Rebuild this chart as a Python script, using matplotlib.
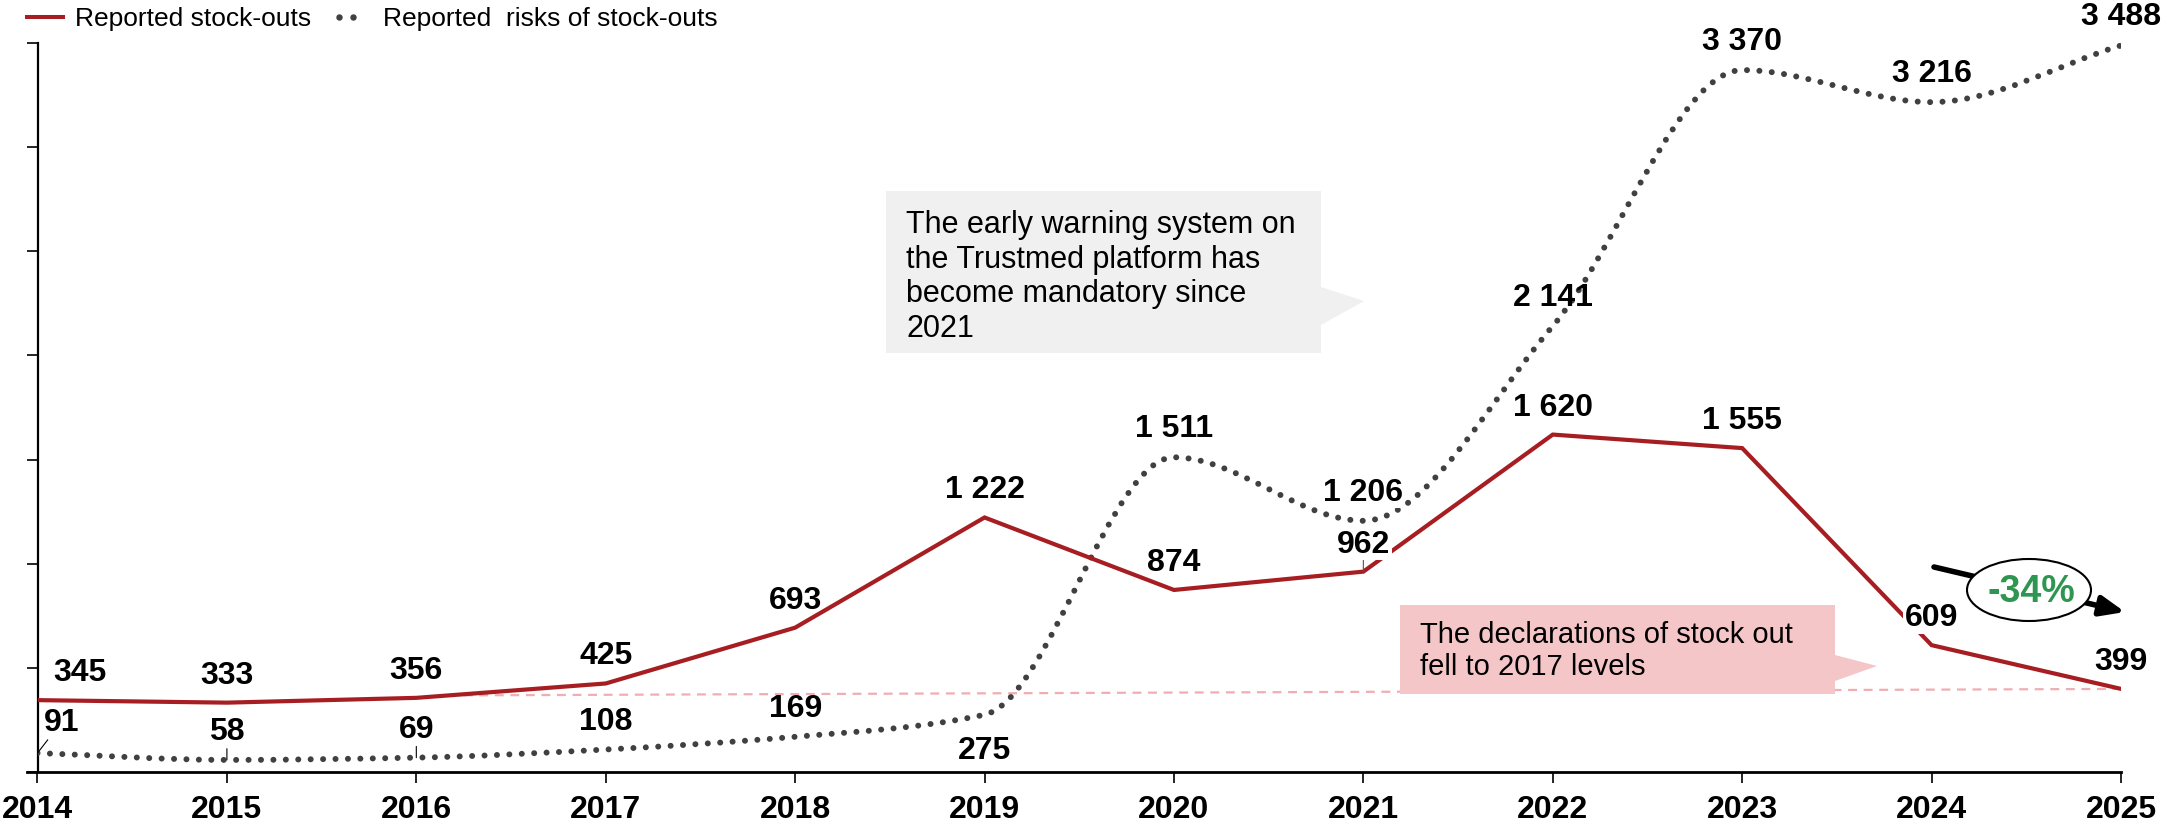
import matplotlib
matplotlib.use('Agg')
import matplotlib.pyplot as plt
from matplotlib.path import Path
from matplotlib.patches import PathPatch, Polygon, Ellipse, FancyArrowPatch
from matplotlib.lines import Line2D

plt.rcParams['font.family'] = ['Liberation Sans', 'DejaVu Sans']

# ---------------- data ----------------
years = [2014, 2015, 2016, 2017, 2018, 2019, 2020, 2021, 2022, 2023, 2024, 2025]
stockouts = [345, 333, 356, 425, 693, 1222, 874, 962, 1620, 1555, 609, 399]
risks = [91, 58, 69, 108, 169, 275, 1511, 1206, 2141, 3370, 3216, 3488]
stock_label = "Reported stock-outs"
risk_label = "Reported  risks of stock-outs"
yticks = [0, 500, 1000, 1500, 2000, 2500, 3000, 3500]
callout_gray = "The early warning system on\nthe Trustmed platform has\nbecome mandatory since\n2021"
callout_pink = "The declarations of stock out\nfell to 2017 levels"
change_label = "-34%"

RED = '#a71e22'
DOT = '#404040'
PINK = '#f5c6c7'
GRAY_BOX = '#f0f0f0'
GREEN = '#2e9650'

W, H = 2177, 829
fig = plt.figure(figsize=(W / 100, H / 100), dpi=100)
ax_l, ax_r, ax_b, ax_t = 37.5, 2121, 773, 44
ax = fig.add_axes([ax_l / W, (H - ax_b) / H, (ax_r - ax_l) / W, (ax_b - ax_t) / H])

ax.set_xlim(years[0], years[-1])
ax.set_ylim(yticks[0], yticks[-1])
ax.set_xticks(years)
ax.set_xticklabels([str(y) for y in years], fontsize=23, fontweight='bold')
ax.set_yticks(yticks)
ax.set_yticklabels([])
for s in ['top', 'right']:
    ax.spines[s].set_visible(False)
ax.spines['left'].set_linewidth(1.6)
ax.spines['bottom'].set_linewidth(2.0)
ax.spines['bottom'].set_bounds(years[0] - 0.055, years[-1])
ax.tick_params(axis='x', direction='out', length=8, width=1.2, pad=8)
ax.tick_params(axis='y', direction='out', length=8, width=1.2)

# reference dashed line "2017 level"
ax.plot([2016.25, years[-1]], [368, stockouts[-1]], color='#f0aeb2', lw=1.6,
        ls=(0, (4, 3)), zorder=1)

# smoothed dotted line for risks (monotone cubic bezier rendering)
n = len(years)
slopes = [(risks[i + 1] - risks[i]) / (years[i + 1] - years[i]) for i in range(n - 1)]
tang = [0.0] * n
tang[0] = slopes[0]
tang[-1] = slopes[-1]
for i in range(1, n - 1):
    a, b = slopes[i - 1], slopes[i]
    tang[i] = 0.0 if a * b <= 0 else 2.0 / (1.0 / a + 1.0 / b)
verts = [(years[0], risks[0])]
codes = [Path.MOVETO]
for i in range(n - 1):
    h = years[i + 1] - years[i]
    verts += [(years[i] + h / 3, risks[i] + tang[i] * h / 3),
              (years[i + 1] - h / 3, risks[i + 1] - tang[i + 1] * h / 3),
              (years[i + 1], risks[i + 1])]
    codes += [Path.CURVE4] * 3
dotted = PathPatch(Path(verts, codes), fill=False, edgecolor=DOT, lw=4.3,
                   ls=(0, (0.01, 2.07)), capstyle='round', zorder=3)
ax.add_patch(dotted)

# red line
ax.plot(years, stockouts, color=RED, lw=3.0, zorder=4, solid_joinstyle='miter')

def fmt(v):
    return f"{v:,}".replace(',', ' ')

bbox = dict(boxstyle='square,pad=0.05', fc='white', ec='none')

red_off = {2014: (42, 28)}
red_mask = {2021, 2024}
for x, v in zip(years, stockouts):
    dx, dy = red_off.get(x, (0, 28))
    ax.annotate(fmt(v), (x, v), xytext=(dx, dy), textcoords='offset pixels',
                ha='center', va='center', fontsize=23, fontweight='bold',
                bbox=bbox if x in red_mask else None, zorder=5,
                annotation_clip=False)

risk_off = {2014: (24, 31), 2019: (0, -35)}
risk_mask = {2021}
leaders = {2014, 2015, 2016}
for x, v in zip(years, risks):
    dx, dy = risk_off.get(x, (0, 29))
    kw = {}
    if x in leaders:
        kw['arrowprops'] = dict(arrowstyle='-', color='black', lw=0.8,
                                shrinkA=0, shrinkB=0)
    ax.annotate(fmt(v), (x, v), xytext=(dx, dy), textcoords='offset pixels',
                ha='center', va='center', fontsize=23, fontweight='bold',
                bbox=bbox if x in risk_mask else None, zorder=5,
                annotation_clip=False, **kw)
# leader for 962
ax.annotate('', (years[7], stockouts[7]), xytext=(0, 12), textcoords='offset pixels',
            arrowprops=dict(arrowstyle='-', color='#555555', lw=0.8, shrinkA=0, shrinkB=0),
            zorder=4.5)

# ---- callouts (axes fraction coords) ----
def fx(px):
    return (px - ax_l) / (ax_r - ax_l)

def fy(py):
    return (ax_b - py) / (ax_b - ax_t)

gray_poly = [(fx(886), fy(192)), (fx(1321), fy(192)), (fx(1321), fy(288)),
             (fx(1364), fy(302)), (fx(1321), fy(326)), (fx(1321), fy(354)),
             (fx(886), fy(354))]
ax.add_patch(Polygon(gray_poly, closed=True, transform=ax.transAxes,
                     fc=GRAY_BOX, ec='none', zorder=2))
ax.text(fx(906), fy(277), callout_gray, transform=ax.transAxes, ha='left',
        va='center', fontsize=22, linespacing=1.2, zorder=2.5)

pink_poly = [(fx(1400), fy(606)), (fx(1835), fy(606)), (fx(1835), fy(656)),
             (fx(1877), fy(667)), (fx(1835), fy(682)), (fx(1835), fy(695)),
             (fx(1400), fy(695))]
ax.add_patch(Polygon(pink_poly, closed=True, transform=ax.transAxes,
                     fc=PINK, ec='none', zorder=2))
ax.text(fx(1420), fy(651), callout_pink, transform=ax.transAxes, ha='left',
        va='center', fontsize=21, linespacing=1.2, zorder=2.5)

# -34% arrow + ellipse
arr = FancyArrowPatch((fx(1934), fy(568)), (fx(2125), fy(613)),
                      transform=ax.transAxes,
                      arrowstyle='-|>,head_length=1.45,head_width=0.6',
                      mutation_scale=10, color='black', lw=4.0, zorder=6,
                      clip_on=False, shrinkA=0, shrinkB=0)
ax.add_patch(arr)
ell = Ellipse((fx(2029), fy(591)), 124 / (ax_r - ax_l), 62 / (ax_b - ax_t),
              transform=ax.transAxes, fc='white', ec='black', lw=1.5, zorder=7,
              clip_on=False)
ax.add_patch(ell)
ax.text(fx(2031), fy(592), change_label, transform=ax.transAxes, ha='center',
        va='center', fontsize=27, fontweight='bold', color=GREEN, zorder=8)

# ---- legend (manual, figure pixels) ----
def FX(px):
    return px / W

def FY(py):
    return (H - py) / H

ly = 19
fig.add_artist(Line2D([FX(27), FX(63)], [FY(ly - 1), FY(ly - 1)], color=RED, lw=2.9,
                      transform=fig.transFigure))
fig.text(FX(75), FY(ly), stock_label, ha='left', va='center', fontsize=19)
fig.add_artist(Line2D([FX(339), FX(353)], [FY(ly - 1), FY(ly - 1)], color=DOT, lw=0,
                      marker='o', markersize=3.6, transform=fig.transFigure))
fig.text(FX(383), FY(ly), risk_label, ha='left', va='center', fontsize=19)

fig.savefig('out.png', dpi=100)
